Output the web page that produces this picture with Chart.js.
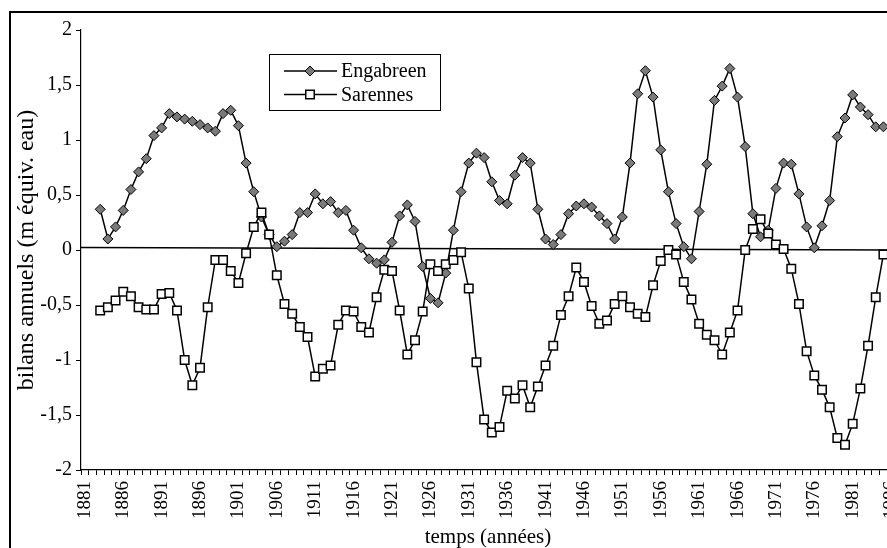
<!DOCTYPE html>
<html>
<head>
<meta charset="utf-8">
<script src="https://cdn.jsdelivr.net/npm/chart.js@4.4.0/dist/chart.umd.min.js"></script>
<style>
  html, body { margin: 0; padding: 0; background: #fff; overflow: hidden; }
  canvas { display: block; }
</style>
</head>
<body>
<canvas id="myChart" width="920" height="560"></canvas>
<script>
// annual mass balances, m water equivalent, 1883-1985
var firstYear = 1881;
var lastYear = 1986;
var dataStart = 1883;

var engabreen = [
  0.37, 0.10, 0.21, 0.36, 0.55, 0.71, 0.83, 1.04, 1.11, 1.24,
  1.21, 1.19, 1.17, 1.14, 1.11, 1.08, 1.24, 1.27, 1.13, 0.79,
  0.53, 0.30, 0.14, 0.03, 0.08, 0.14, 0.34, 0.34, 0.51, 0.42,
  0.44, 0.34, 0.36, 0.18, 0.02, -0.08, -0.12, -0.09, 0.07, 0.31,
  0.41, 0.26, -0.15, -0.44, -0.48, -0.21, 0.18, 0.53, 0.79, 0.88,
  0.84, 0.62, 0.45, 0.42, 0.68, 0.84, 0.79, 0.37, 0.10, 0.05,
  0.14, 0.33, 0.40, 0.42, 0.39, 0.31, 0.24, 0.10, 0.30, 0.79,
  1.42, 1.63, 1.39, 0.91, 0.53, 0.24, 0.03, -0.08, 0.35, 0.78,
  1.36, 1.49, 1.65, 1.39, 0.94, 0.33, 0.12, 0.18, 0.56, 0.79,
  0.78, 0.51, 0.21, 0.02, 0.22, 0.45, 1.03, 1.20, 1.41, 1.30,
  1.23, 1.12, 1.12
];

var sarennes = [
  -0.55, -0.52, -0.46, -0.38, -0.42, -0.52, -0.54, -0.54, -0.40, -0.39,
  -0.55, -1.00, -1.23, -1.07, -0.52, -0.09, -0.09, -0.19, -0.30, -0.03,
  0.21, 0.34, 0.14, -0.23, -0.49, -0.58, -0.70, -0.79, -1.15, -1.08,
  -1.05, -0.68, -0.55, -0.56, -0.70, -0.75, -0.43, -0.18, -0.19, -0.55,
  -0.95, -0.82, -0.56, -0.13, -0.19, -0.13, -0.09, -0.02, -0.35, -1.02,
  -1.54, -1.66, -1.61, -1.28, -1.35, -1.23, -1.43, -1.24, -1.05, -0.87,
  -0.59, -0.42, -0.16, -0.29, -0.51, -0.67, -0.64, -0.49, -0.42, -0.52,
  -0.58, -0.61, -0.32, -0.10, 0.00, -0.04, -0.29, -0.45, -0.67, -0.77,
  -0.82, -0.95, -0.75, -0.55, 0.00, 0.19, 0.28, 0.15, 0.05, 0.01,
  -0.17, -0.49, -0.92, -1.14, -1.27, -1.43, -1.71, -1.77, -1.58, -1.26,
  -0.87, -0.43, -0.04
];

// near-zero reference line, value at left and right edge of the plot
var refLine = [0.023, 0.0];

var years = [];
for (var y = firstYear; y <= lastYear; y++) years.push(y);

function onYears(values) {
  return years.map(function (yr) {
    var i = yr - dataStart;
    return (i >= 0 && i < values.length) ? values[i] : null;
  });
}

var serif = '"Liberation Serif", "Times New Roman", serif';

var bgFrame = {
  id: 'bgFrame',
  beforeDraw: function (chart) {
    var c = chart.ctx;
    c.save();
    c.fillStyle = '#fff';
    c.fillRect(0, 0, chart.width, chart.height);
    c.restore();
  },
  beforeDatasetsDraw: function (chart) {
    var c = chart.ctx, a = chart.chartArea, ys = chart.scales.y;
    c.save();
    c.strokeStyle = '#000';
    c.lineWidth = 1.5;
    c.beginPath();
    c.moveTo(a.left, ys.getPixelForValue(refLine[0]));
    c.lineTo(a.right, ys.getPixelForValue(refLine[1]));
    c.stroke();
    c.restore();
  },
  afterDraw: function (chart) {
    var c = chart.ctx;
    c.save();
    c.strokeStyle = '#000';
    c.lineWidth = 2;
    c.strokeRect(10, 12, chart.width - 14, chart.height - 8);

    // legend box
    c.lineWidth = 1;
    c.fillStyle = '#fff';
    c.fillRect(269.5, 54.5, 171, 56);
    c.strokeRect(269.5, 54.5, 171, 56);
    c.font = '20px ' + serif;
    c.textBaseline = 'middle';
    var sets = chart.data.datasets;
    for (var i = 0; i < sets.length; i++) {
      var ds = sets[i];
      var ry = 71 + i * 23.5;
      c.strokeStyle = '#000';
      c.lineWidth = 1.5;
      c.beginPath();
      c.moveTo(284, ry);
      c.lineTo(337, ry);
      c.stroke();
      c.fillStyle = ds.pointBackgroundColor;
      c.strokeStyle = ds.pointBorderColor;
      c.lineWidth = ds.pointBorderWidth;
      Chart.helpers.drawPoint(c, { pointStyle: ds.pointStyle, radius: ds.pointRadius, rotation: 0, borderWidth: ds.pointBorderWidth }, 310, ry);
      c.fillStyle = '#000';
      c.fillText(ds.label, 341, ry + 1);
    }
    c.restore();
  }
};

var ctx = document.getElementById('myChart');
var myChart = new Chart(ctx, {
  type: 'line',
  data: {
    labels: years.map(String),
    datasets: [{
      label: 'Engabreen',
      data: onYears(engabreen),
      order: 1,
      borderColor: '#000',
      borderWidth: 1.5,
      tension: 0,
      pointStyle: 'rectRot',
      pointRadius: 5,
      pointBackgroundColor: '#7a7a7a',
      pointBorderColor: '#000',
      pointBorderWidth: 1
    }, {
      label: 'Sarennes',
      data: onYears(sarennes),
      order: 0,
      borderColor: '#000',
      borderWidth: 1.5,
      tension: 0,
      pointStyle: 'rect',
      pointRadius: 6,
      pointBackgroundColor: '#fff',
      pointBorderColor: '#000',
      pointBorderWidth: 1.5
    }]
  },
  options: {
    responsive: false,
    animation: false,
    devicePixelRatio: 1,
    layout: { padding: { top: 30, right: 23, bottom: 0, left: 0 } },
    plugins: { legend: { display: false }, tooltip: { enabled: false } },
    scales: {
      x: {
        type: 'category',
        offset: true,
        grid: { offset: true, drawOnChartArea: false, drawTicks: true, tickLength: 5, color: '#000', tickColor: '#000' },
        border: { color: '#000', width: 1.2 },
        ticks: {
          autoSkip: false,
          minRotation: 90,
          maxRotation: 90,
          padding: 6,
          color: '#000',
          font: { family: serif, size: 19 },
          callback: function (v, i) {
            var yr = years[i];
            return (yr - firstYear) % 5 === 0 ? String(yr) : '';
          }
        },
        title: { display: true, text: 'temps (années)', color: '#000', font: { family: serif, size: 21 }, padding: { top: 0, bottom: 10 } },
        afterFit: function (s) { s.height = 90; }
      },
      y: {
        min: -2,
        max: 2,
        grid: { drawOnChartArea: false, drawTicks: true, tickLength: 5, color: '#000', tickColor: '#000' },
        border: { color: '#000', width: 1.2 },
        ticks: {
          stepSize: 0.5,
          padding: 4,
          color: '#000',
          font: { family: serif, size: 20 },
          callback: function (v) { return String(v).replace('.', ','); }
        },
        title: { display: true, text: 'bilans annuels (m équiv. eau)', color: '#000', font: { family: serif, size: 24 }, padding: { top: 12, bottom: 0 } },
        afterFit: function (s) { s.width = 81; }
      }
    }
  },
  plugins: [bgFrame]
});
</script>
</body>
</html>
